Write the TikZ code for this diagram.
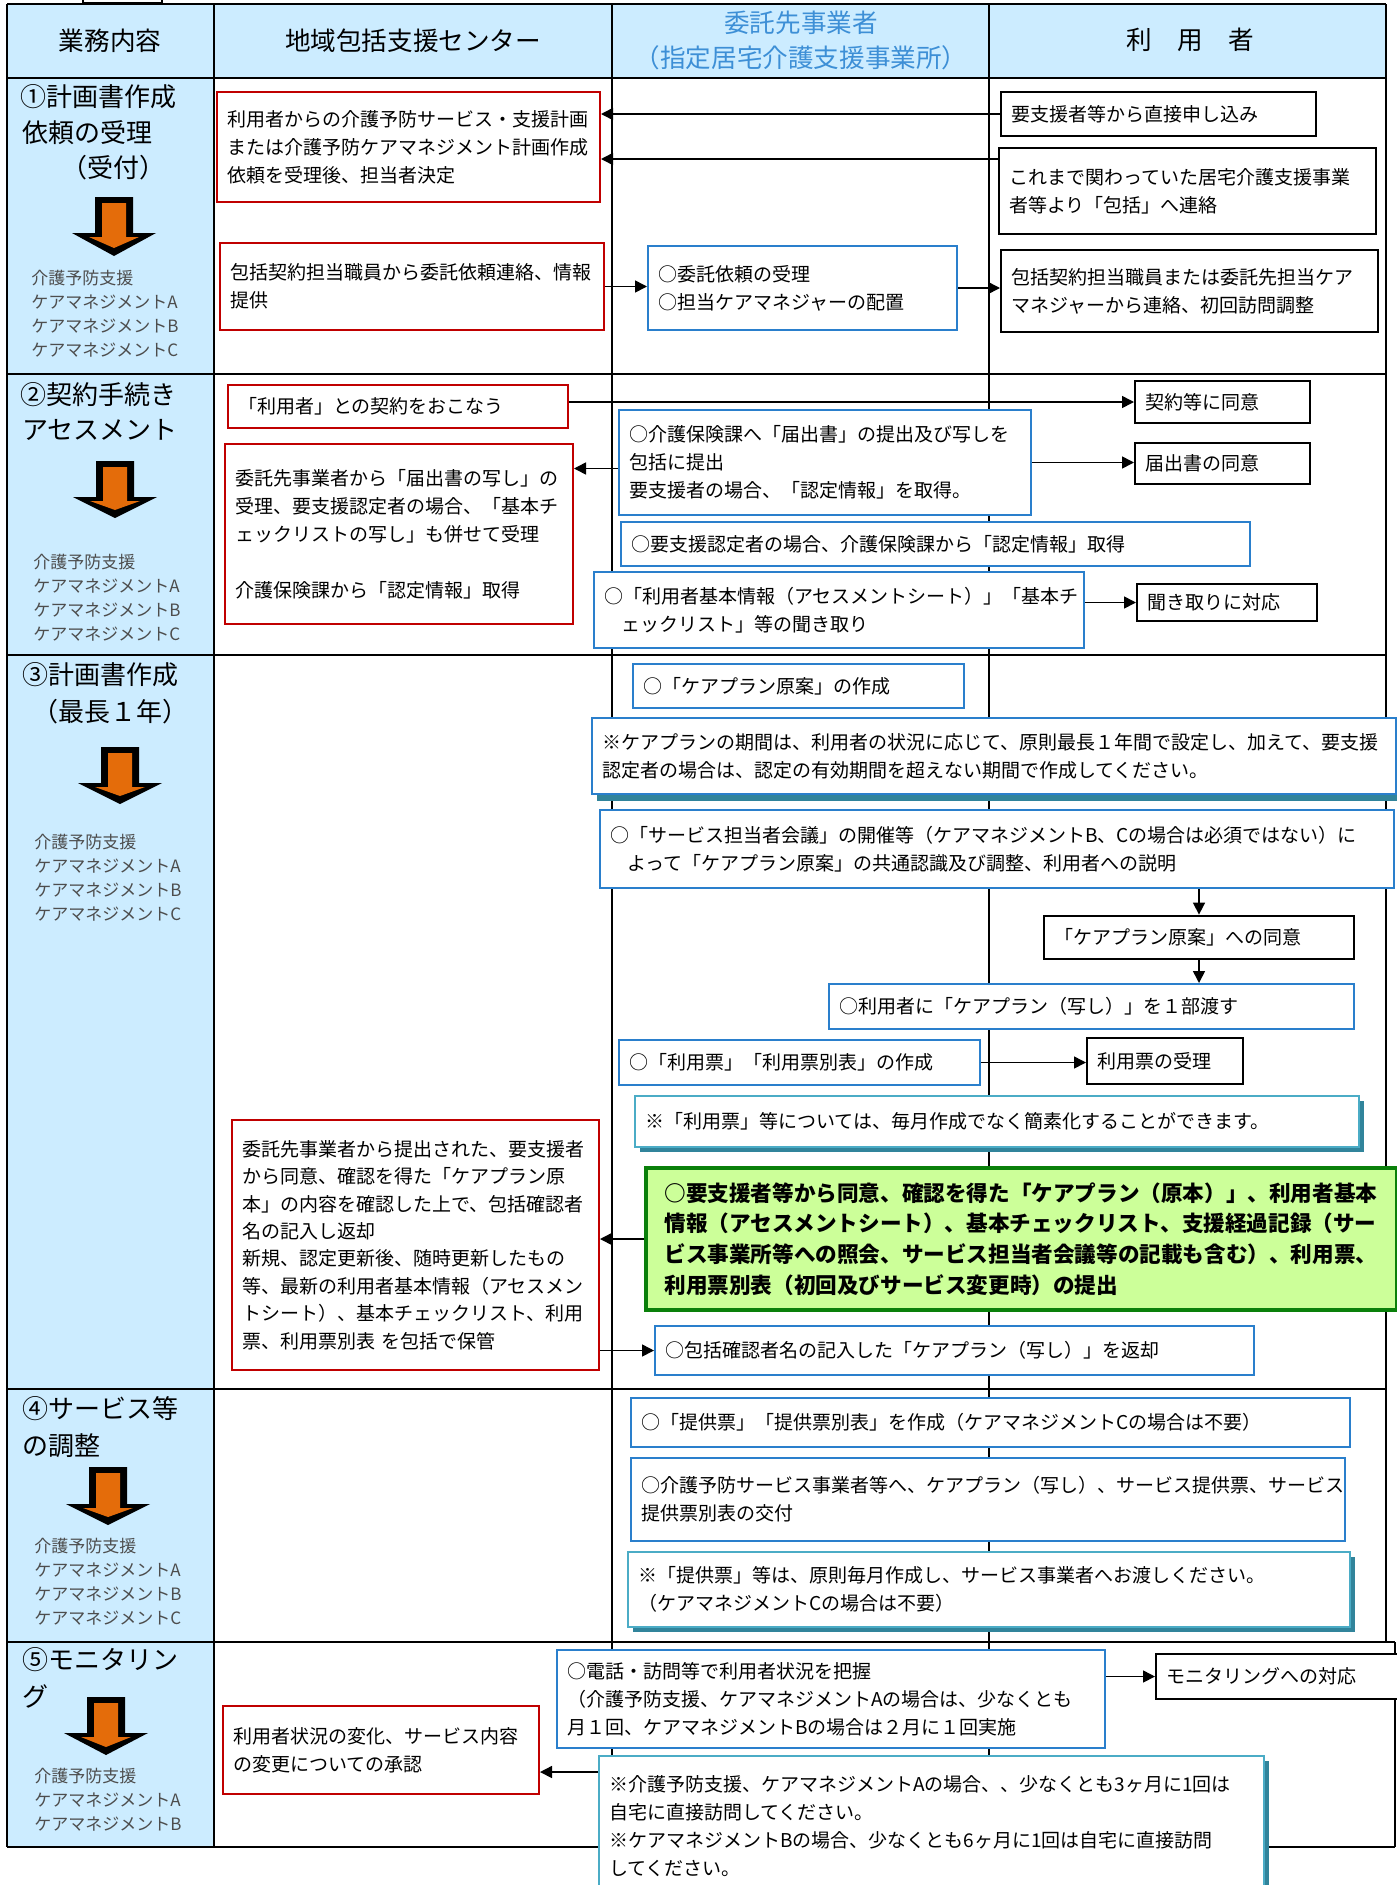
\documentclass[tikz,border=0pt]{standalone}
\usepackage{fontspec}
\setmainfont{Noto Sans CJK JP}
\usetikzlibrary{arrows.meta,shadows}
\definecolor{hdr}{HTML}{CCECFF}
\definecolor{bred}{HTML}{C00000}
\definecolor{bblue}{HTML}{2A7FCC}
\definecolor{bteal}{HTML}{4BACC6}
\definecolor{steal}{HTML}{31849B}
\definecolor{gbord}{HTML}{0A800A}
\definecolor{gfill}{HTML}{CCFF99}
\definecolor{orng}{HTML}{E46C0A}
\definecolor{hblue}{HTML}{3D8FD6}
\definecolor{sgray}{HTML}{4D4D4D}
\newcommand\fs{\fontsize{9.5}{14}\selectfont}
\newcommand\mybox[7][]{%
 \pgfmathsetmacro\bw{(#5-#3)*0.5}%
 \pgfmathsetmacro\bh{(#6-#4)*0.5}%
 \pgfmathsetmacro\tw{(#5-#3)*0.5-10}%
 \node[minimum width=\bw pt,minimum height=\bh pt,text width=\tw pt,#1] (#2) at ({(#3+#5)/2},{(#4+#6)/2}) {#7};}
\newcommand\orarrow[4]{%
 \fill[black] (#1-19,#2) -- (#1+19,#2) -- (#1+19,#3) -- (#1+42,#3) -- (#1,#4) -- (#1-42,#3) -- (#1-19,#3) -- cycle;
 \fill[orng] (#1-12,#2+6) -- (#1+12,#2+6) -- (#1+12,#3+4) -- (#1+25,#3+4) -- (#1,#4-8) -- (#1-25,#3+4) -- (#1-12,#3+4) -- cycle;}
\begin{document}
\begin{tikzpicture}[x=0.5pt,y=-0.5pt,
 cellbox/.style={draw, fill=white, line width=1pt, inner xsep=5pt, inner ysep=0pt, align=left, font=\fs},
 redb/.style={cellbox, draw=bred},
 blueb/.style={cellbox, draw=bblue},
 blackb/.style={cellbox, draw=black},
 tealb/.style={cellbox, draw=bteal, drop shadow={shadow xshift=2.5pt,shadow yshift=-2.5pt,fill=steal,opacity=1}},
 blueshb/.style={cellbox, draw=bblue, drop shadow={shadow xshift=2.5pt,shadow yshift=-3.5pt,fill=steal,opacity=1}},
 greenb/.style={cellbox, draw=gbord, fill=gfill, line width=2pt, inner xsep=9pt, font=\bfseries\fontsize{10.8}{15.4}\selectfont},
 arr/.style={-{Triangle[length=6pt,width=6pt]}, line width=0.8pt},
 ttl/.style={anchor=west, inner sep=0pt, font=\fontsize{13}{16}\selectfont},
 sml/.style={anchor=west, inner sep=0pt, align=left, text=sgray, font=\fontsize{8.5}{12}\selectfont},
 hdrt/.style={inner sep=0pt, font=\fontsize{12.8}{17.5}\selectfont, align=center}]
\useasboundingbox (0,0) rectangle (1397,1885);
\clip (0,0) rectangle (1397,1885);
% table background
\fill[hdr] (7,4) rectangle (1386,78);
\fill[hdr] (7,78) rectangle (214,1847);
\draw[line width=1pt] (83,-5) rectangle (162,3);
\draw[line width=1.2pt] (7,4) -- (1386,4) (7,78) -- (1386,78) (7,374) -- (1386,374) (7,655) -- (1386,655) (7,1389) -- (1386,1389) (7,1642) -- (1395,1642) (7,1847) -- (1395,1847);
\draw[line width=1.2pt] (7,4) -- (7,1847) (1386,4) -- (1386,1642) (1395,1642) -- (1395,1847);
\draw[line width=0.8pt] (214,4) -- (214,1847) (612,4) -- (612,1847) (989,4) -- (989,1847);
% header
\node[hdrt] (h1) at (110,41) {業務内容};
\node[hdrt] (h2) at (413,41) {地域包括支援センター};
\node[hdrt, text=hblue] (h3) at (801,40) {委託先事業者\\（指定居宅介護支援事業所）};
\node[hdrt] (h4) at (1190,40) {利　用　者};
% left column
\node[ttl] (t1a) at (20,97) {①計画書作成};
\node[ttl] (t1b) at (22,133) {依頼の受理};
\node[ttl] (t1c) at (61,168) {（受付）};
\orarrow{114}{197}{233}{256}
\node[sml] (s1) at (31,314) {介護予防支援\\ケアマネジメントA\\ケアマネジメントB\\ケアマネジメントC};
\node[ttl] (t2a) at (20,395) {②契約手続き};
\node[ttl] (t2b) at (22,430) {アセスメント};
\orarrow{115}{461}{497}{518}
\node[sml] (s2) at (33,598) {介護予防支援\\ケアマネジメントA\\ケアマネジメントB\\ケアマネジメントC};
\node[ttl] (t3a) at (22,675) {③計画書作成};
\node[ttl] (t3b) at (32,712) {（最長１年）};
\orarrow{120}{747}{783}{804}
\node[sml] (s3) at (34,878) {介護予防支援\\ケアマネジメントA\\ケアマネジメントB\\ケアマネジメントC};
\node[ttl] (t4a) at (22,1409) {④サービス等};
\node[ttl] (t4b) at (22,1446) {の調整};
\orarrow{108}{1467}{1504}{1525}
\node[sml] (s4) at (34,1582) {介護予防支援\\ケアマネジメントA\\ケアマネジメントB\\ケアマネジメントC};
\node[ttl] (t5a) at (22,1660) {⑤モニタリン};
\node[ttl] (t5b) at (22,1696) {グ};
\orarrow{106}{1697}{1733}{1755}
\node[sml] (s5) at (34,1800) {介護予防支援\\ケアマネジメントA\\ケアマネジメントB};
% row 1
\mybox[redb]{r1c2a}{217}{92}{600}{202}{利用者からの介護予防サービス・支援計画\\または介護予防ケアマネジメント計画作成\\依頼を受理後、担当者決定}
\mybox[redb]{r1c2b}{220}{243}{604}{330}{包括契約担当職員から委託依頼連絡、情報\\提供}
\mybox[blueb]{r1c3}{648}{246}{957}{330}{○委託依頼の受理\\○担当ケアマネジャーの配置}
\mybox[blackb]{r1u1}{1001}{92}{1316}{136}{要支援者等から直接申し込み}
\mybox[blackb]{r1u2}{999}{148}{1376}{234}{これまで関わっていた居宅介護支援事業\\者等より「包括」へ連絡}
\mybox[blackb]{r1u3}{1001}{250}{1378}{332}{包括契約担当職員または委託先担当ケア\\マネジャーから連絡、初回訪問調整}
% row 2
\mybox[redb]{r2c2a}{228}{385}{568}{428}{「利用者」との契約をおこなう}
\mybox[redb]{r2c2b}{225}{444}{573}{624}{委託先事業者から「届出書の写し」の\\受理、要支援認定者の場合、「基本チ\\ェックリストの写し」も併せて受理\\[14pt]介護保険課から「認定情報」取得}
\mybox[blueb]{r2c3a}{619}{410}{1031}{515}{○介護保険課へ「届出書」の提出及び写しを\\包括に提出\\要支援者の場合、「認定情報」を取得。}
\mybox[blueb]{r2c3b}{621}{522}{1250}{566}{○要支援認定者の場合、介護保険課から「認定情報」取得}
\mybox[blueb]{r2c3c}{594}{572}{1084}{648}{○「利用者基本情報（アセスメントシート）」「基本チ\\\hspace{0.9em}ェックリスト」等の聞き取り}
\mybox[blackb]{r2u1}{1135}{381}{1310}{423}{契約等に同意}
\mybox[blackb]{r2u2}{1135}{443}{1310}{484}{届出書の同意}
\mybox[blackb]{r2u3}{1137}{584}{1317}{621}{聞き取りに対応}
% row 3
\mybox[blueb]{r3c3a}{633}{664}{964}{708}{○「ケアプラン原案」の作成}
\mybox[blueshb]{r3c3b}{592}{718}{1396}{794}{※ケアプランの期間は、利用者の状況に応じて、原則最長１年間で設定し、加えて、要支援\\認定者の場合は、認定の有効期間を超えない期間で作成してください。}
\mybox[blueb]{r3c3c}{600}{810}{1394}{888}{○「サービス担当者会議」の開催等（ケアマネジメントB、Cの場合は必須ではない）に\\\hspace{0.9em}よって「ケアプラン原案」の共通認識及び調整、利用者への説明}
\mybox[blackb,line width=1.4pt]{r3u1}{1044}{916}{1354}{959}{「ケアプラン原案」への同意}
\mybox[blueb]{r3c3d}{829}{984}{1354}{1029}{○利用者に「ケアプラン（写し）」を１部渡す}
\mybox[blueb]{r3c3e}{619}{1040}{980}{1085}{○「利用票」「利用票別表」の作成}
\mybox[blackb]{r3u2}{1087}{1038}{1243}{1084}{利用票の受理}
\mybox[tealb]{r3c3f}{635}{1096}{1359}{1147}{※「利用票」等については、毎月作成でなく簡素化することができます。}
\mybox[greenb,text width=357pt]{r3g}{646}{1168}{1397}{1310}{○要支援者等から同意、確認を得た「ケアプラン（原本）」、利用者基本\\情報（アセスメントシート）、基本チェックリスト、支援経過記録（サー\\ビス事業所等への照会、サービス担当者会議等の記載も含む）、利用票、\\利用票別表（初回及びサービス変更時）の提出}
\mybox[redb,font=\fontsize{9.5}{13.7}\selectfont]{r3c2}{232}{1120}{599}{1370}{委託先事業者から提出された、要支援者\\から同意、確認を得た「ケアプラン原\\本」の内容を確認した上で、包括確認者\\名の記入し返却\\新規、認定更新後、随時更新したもの\\等、最新の利用者基本情報（アセスメン\\トシート）、基本チェックリスト、利用\\票、利用票別表 を包括で保管}
\mybox[blueb]{r3c3h}{655}{1326}{1254}{1375}{○包括確認者名の記入した「ケアプラン（写し）」を返却}
% row 4
\mybox[blueb]{r4a}{631}{1398}{1350}{1447}{○「提供票」「提供票別表」を作成（ケアマネジメントCの場合は不要）}
\mybox[blueb]{r4b}{631}{1458}{1345}{1541}{○介護予防サービス事業者等へ、ケアプラン（写し）、サービス提供票、サービス\\提供票別表の交付}
\mybox[tealb]{r4c}{628}{1552}{1350}{1627}{※「提供票」等は、原則毎月作成し、サービス事業者へお渡しください。\\（ケアマネジメントCの場合は不要）}
% row 5
\mybox[blueb]{r5c3a}{557}{1650}{1105}{1748}{○電話・訪問等で利用者状況を把握\\（介護予防支援、ケアマネジメントAの場合は、少なくとも\\月１回、ケアマネジメントBの場合は２月に１回実施}
\mybox[blackb]{r5u}{1156}{1654}{1400}{1699}{モニタリングへの対応}
\mybox[redb]{r5c2}{223}{1706}{539}{1794}{利用者状況の変化、サービス内容\\の変更についての承認}
\mybox[tealb]{r5c3b}{599}{1756}{1264}{1897}{※介護予防支援、ケアマネジメントAの場合、、少なくとも3ヶ月に1回は\\自宅に直接訪問してください。\\※ケアマネジメントBの場合、少なくとも6ヶ月に1回は自宅に直接訪問\\してください。}
% connectors
\draw[arr] (r1u1.west) -- (r1u1.west -| r1c2a.east);
\draw[arr] ([yshift=-6pt]r1u2.north west) -- ([yshift=-6pt]r1u2.north west -| r1c2a.east);
\draw[arr] (r1c2b.east) -- (r1c2b.east -| r1c3.west);
\draw[arr] (r1c3.east) -- (r1c3.east -| r1u3.west);
\draw[arr] (r2u1.west -| r2c2a.east) -- (r2u1.west);
\draw[arr] ([yshift=-3pt]r2c3a.west) -- ([yshift=-3pt]r2c3a.west -| r2c2b.east);
\draw[arr] (r2c3a.east) -- (r2c3a.east -| r2u2.west);
\draw[arr] (r2u3.west -| r2c3c.east) -- (r2u3.west);
\draw[arr] (r3u1.north |- r3c3c.south) -- (r3u1.north);
\draw[arr] (r3u1.south) -- (r3u1.south |- r3c3d.north);
\draw[arr] (r3c3e.east) -- (r3c3e.east -| r3u2.west);
\draw[arr] (r3g.west) -- (r3g.west -| r3c2.east);
\draw[arr] (r3c3h.west -| r3c2.east) -- (r3c3h.west);
\draw[arr] (r5u.west -| r5c3a.east) -- (r5u.west);
\draw[arr] ([yshift=-8.5pt]r5c3b.north west) -- ([yshift=-8.5pt]r5c3b.north west -| r5c2.east);
\end{tikzpicture}
\end{document}
